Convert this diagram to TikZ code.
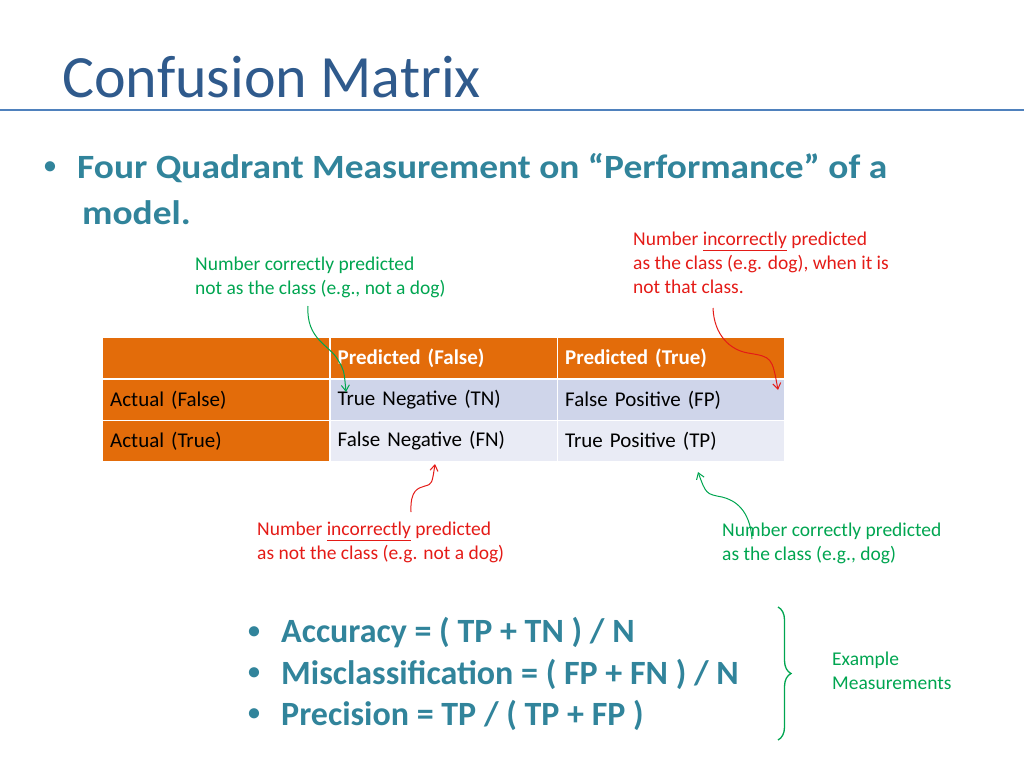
\documentclass[tikz,border=0pt]{standalone}
\usepackage{fontspec}
\setmainfont{Carlito}
\usetikzlibrary{arrows.meta,decorations.pathreplacing}
\definecolor{orng}{HTML}{E36C0A}
\definecolor{blue1}{HTML}{CFD5EA}
\definecolor{blue2}{HTML}{E9EBF5}
\definecolor{ttl}{HTML}{2F5A8C}
\definecolor{teal}{HTML}{31849B}
\definecolor{rule}{HTML}{4F81BD}
\definecolor{grn}{HTML}{00A550}
\definecolor{rd}{HTML}{E41B17}
\tikzset{
  cell/.style={minimum width=226pt,minimum height=39.5pt,inner sep=0pt,anchor=north west,text width=216pt,align=left,font=\fontsize{21}{24}\selectfont},
  hdr/.style={cell,fill=orng,text=white,font=\fontsize{21}{24}\selectfont\bfseries},
  act/.style={cell,fill=orng,text=black},
  note/.style={anchor=north west,inner sep=0pt,align=left,font=\fontsize{19.5}{24}\selectfont},
  big/.style={anchor=west,inner sep=0pt,text=teal,font=\fontsize{34}{40}\selectfont\bfseries},
  dot/.style={anchor=west,inner sep=0pt,text=teal,font=\fontsize{24}{30}\selectfont\bfseries},
  arr/.style={-{Straight Barb[length=6pt,width=8pt]},line width=1pt}
}
\begin{document}
\begin{tikzpicture}[x=1pt,y=-1pt]
\useasboundingbox (0,0) rectangle (1024,768);
\node[anchor=west,inner sep=0pt,text=ttl,font=\fontsize{60}{70}\selectfont] (title) at (62,77) {Confusion Matrix};
\draw[rule,line width=1.5pt] (0,110) -- (1024,110);
\node[dot] (b0) at (44,168) {•};
\node[big] (l1) at (77,168) {\scalebox{1.1}[1]{Four Quadrant Measurement on “Performance” of a}};
\node[big] (l2) at (82,213) {\scalebox{1.1}[1]{model.}};
% table
\node[hdr] (h0) at (103,338) {};
\node[hdr] (h1) at (330.5,338) {\hspace*{2pt}Predicted (False)};
\node[hdr] (h2) at (558,338) {\hspace*{2pt}Predicted (True)};
\node[act] (a1) at (103,380) {\hspace*{2pt}Actual (False)};
\node[cell,fill=blue1] (c11) at (330.5,380) {\hspace*{2pt}True Negative (TN)};
\node[cell,fill=blue1] (c12) at (558,380) {\hspace*{2pt}False Positive (FP)};
\node[act] (a2) at (103,421) {\hspace*{2pt}Actual (True)};
\node[cell,fill=blue2] (c21) at (330.5,421) {\hspace*{2pt}False Negative (FN)};
\node[cell,fill=blue2] (c22) at (558,421) {\hspace*{2pt}True Positive (TP)};
% notes
\node[note,text=grn] (n1) at (195,257) {Number correctly predicted\\not as the class (e.g., not a dog)};
\node[note,text=rd] (n2) at (633,232) {Number \underline{incorrectly} predicted\\as the class (e.g. dog), when it is\\not that class.};
\node[note,text=rd] (n3) at (257,522) {Number \underline{incorrectly} predicted\\as not the class (e.g. not a dog)};
\node[note,text=grn] (n4) at (722,523) {Number correctly predicted\\as the class (e.g., dog)};
\coordinate (s1) at (308,306); \coordinate (e1) at (346,392);
\coordinate (s2) at (713,308); \coordinate (e2) at (778,390);
\coordinate (s3) at (411,512); \coordinate (e3) at (435,464);
\coordinate (s4) at (752,539); \coordinate (e4) at (698,472);
\draw[arr,grn] (s1) .. controls (306,340) and (330,345) .. (338,360) .. controls (344,370) .. (e1);
\draw[arr,rd] (s2) .. controls (714,335) and (730,350) .. (748,353) .. controls (772,357) .. (e2);
\draw[arr,rd] (s3) .. controls (410,490) and (418,488) .. (425,486) .. controls (432,484) .. (e3);
\draw[arr,grn] (s4) .. controls (750,510) and (735,500) .. (722,497) .. controls (706,494) .. (e4);
% formulas
\node[dot] (f0) at (248,633) {•};
\node[big] (f1) at (281,633) {Accuracy = ( TP + TN ) / N};
\node[dot] (g0) at (248,674) {•};
\node[big] (f2) at (281,674) {Misclassification = ( FP + FN ) / N};
\node[dot] (h0b) at (248,715) {•};
\node[big] (f3) at (281,715) {Precision = TP / ( TP + FP )};
\coordinate (br1) at (778,607); \coordinate (br2) at (778,740);
\draw[grn,line width=1.3pt,decorate,decoration={brace,amplitude=13pt}] (br1) -- (br2);
\node[note,text=grn] (ex) at (832,652) {Example\\Measurements};
\end{tikzpicture}
\end{document}
